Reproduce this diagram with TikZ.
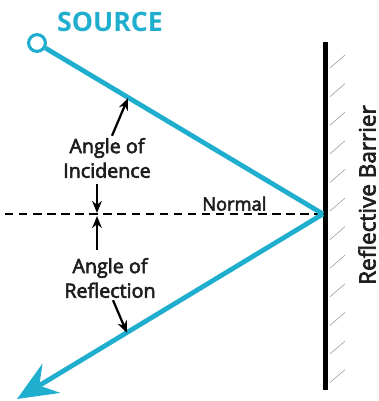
\documentclass[tikz,border=0pt]{standalone}
\usepackage{fontspec}
\setmainfont{Open Sans}
\newfontfamily\medfont[FakeBold=3]{Open Sans}
\usetikzlibrary{arrows.meta,calc}
\definecolor{raycyan}{RGB}{32,174,206}
\definecolor{inkgray}{RGB}{30,30,30}

\begin{document}
\begin{tikzpicture}[x=0.025cm, y=-0.025cm,
  ray/.style={line width=3.4pt, raycyan},
  label/.style={font=\medfont\fontsize{14}{17.5}\selectfont, text=inkgray, align=center, inner sep=0pt},
  pointer/.style={-{Stealth[length=3mm, width=2.4mm]}, line width=1.6pt},
  hatch/.style={gray!80, line width=0.4pt},
]
\useasboundingbox (0,0) rectangle (379,401);

% === BARRIER ===
\coordinate (hit) at (323,214);
\coordinate (bartop) at (325.5,42);
\coordinate (barbot) at (325.5,390);
\draw[dashed, dash pattern=on 6pt off 4pt, line width=0.9pt] (5,214) coordinate (normstart) -- (hit);
\draw[line width=3.8pt] (bartop) -- (barbot);
\foreach \i in {0,...,11}
  \draw[hatch] (330,68+28.6*\i) -- ++(15,-13);
\node[rotate=90, font=\medfont\fontsize{16}{18}\selectfont, text=inkgray] (barlabel) at (367,195) {Reflective Barrier};

% === RAYS ===
\node[circle, draw=raycyan, line width=2.2pt, minimum size=0.42cm, inner sep=0pt] (source) at (37,43) {};
\node[font=\fontsize{19}{20}\bfseries, text=raycyan] (sourcelabel) at (110,22) {SOURCE};
\coordinate (rayend) at (17,399);
\draw[ray] (source) -- (hit);
\draw[ray, -{Stealth[length=10mm, width=8.5mm, inset=3.5mm]}] (hit) -- (rayend);

\node[anchor=south west, font=\medfont\fontsize{13}{14}\selectfont, text=inkgray, inner sep=0pt] (normal) at (202,211) {Normal};

% === ANGLE LABELS ===
\node[label] (incid) at (107,158) {Angle of\\Incidence};
\node[label] (reflect) at (110,278) {Angle of\\Reflection};
\coordinate (incidtip) at (128,98);
\coordinate (reflecttip) at (127,333);
\draw[pointer] (incid.north) ++(5,-2) -- (incidtip);
\draw[pointer] (97,184) -- (97,213);
\draw[pointer] (97,250) -- (97,216);
\draw[pointer] (reflect.south) ++(3,2) -- (reflecttip);
\end{tikzpicture}
\end{document}
